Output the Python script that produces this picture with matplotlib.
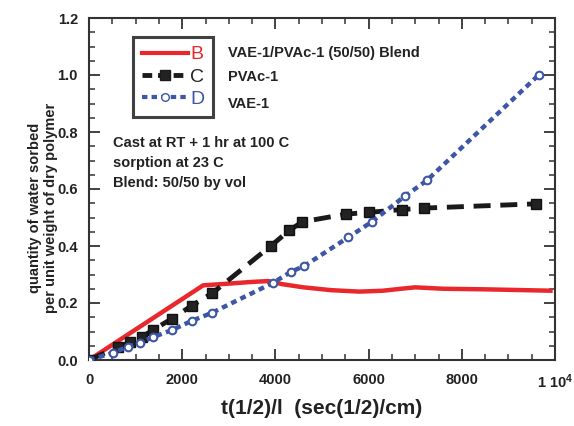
import matplotlib
matplotlib.use("Agg")
import matplotlib.pyplot as plt
from matplotlib.ticker import MultipleLocator
from matplotlib.lines import Line2D

plt.rcParams['font.family'] = ['Liberation Sans', 'DejaVu Sans']
plt.rcParams['mathtext.fontset'] = 'custom'
plt.rcParams['mathtext.rm'] = 'Liberation Sans:bold'
plt.rcParams['mathtext.it'] = 'Liberation Sans:bold'
plt.rcParams['mathtext.bf'] = 'Liberation Sans:bold'

# B: VAE-1/PVAc-1 (50/50) Blend
b_x = [0, 2450, 3000, 3500, 3850, 4150, 4600, 5200, 5800, 6300, 6700, 7000, 7600, 8500, 9950]
b_y = [0, 0.262, 0.268, 0.274, 0.277, 0.266, 0.255, 0.245, 0.240, 0.243, 0.250, 0.255, 0.250, 0.248, 0.243]

# C: PVAc-1
c_x = [0, 620, 880, 1130, 1370, 1780, 2200, 2650, 3900, 4300, 4580, 5520, 6010, 6720, 7190, 9600]
c_y = [0, 0.045, 0.062, 0.080, 0.105, 0.145, 0.190, 0.235, 0.400, 0.455, 0.485, 0.512, 0.518, 0.528, 0.533, 0.548]

# D: VAE-1
d_x = [0, 510, 830, 1090, 1370, 1780, 2200, 2630, 3940, 4340, 4620, 5560, 6070, 6780, 7250, 9650]
d_y = [0, 0.025, 0.046, 0.060, 0.080, 0.105, 0.137, 0.165, 0.270, 0.310, 0.330, 0.430, 0.485, 0.575, 0.630, 1.000]

x_ticks = [0, 2000, 4000, 6000, 8000, 10000]
x_ticklabels = ['0', '2000', '4000', '6000', '8000', '1 10$^{4}$']
y_ticks = [0.0, 0.2, 0.4, 0.6, 0.8, 1.0, 1.2]
y_ticklabels = ['0.0', '0.2', '0.4', '0.6', '0.8', '1.0', '1.2']

series_names = ['VAE-1/PVAc-1 (50/50) Blend', 'PVAc-1', 'VAE-1']
notes = ['Cast at RT + 1 hr at 100 C', 'sorption at 23 C', 'Blend: 50/50 by vol']

RED = '#e8282c'
BLUE = '#3d56a6'

fig = plt.figure(figsize=(5.74, 4.26), dpi=100)
ax = fig.add_axes([89/574, 1 - 360/426, 466/574, 342/426])

ax.plot(b_x, b_y, color=RED, lw=3.2, solid_capstyle='butt', zorder=2)
ax.plot(c_x, c_y, color='#1a1a1a', lw=3.5, linestyle=(0, (3.5, 2)), marker='s',
        markersize=7, markerfacecolor='#222222', markeredgecolor='#111111', zorder=3)
ax.plot(d_x, d_y, color=BLUE, lw=3.2, linestyle=(0, (1.3, 1.0)), marker='o',
        markersize=5.5, markerfacecolor='white', markeredgecolor=BLUE, markeredgewidth=1.5, zorder=4)

ax.set_xlim(0, 10000)
ax.set_ylim(0, 1.2)
ax.set_xticks(x_ticks)
ax.set_xticklabels(x_ticklabels)
ax.set_yticks(y_ticks)
ax.set_yticklabels(y_ticklabels)
ax.xaxis.set_minor_locator(MultipleLocator(500))
ax.yaxis.set_minor_locator(MultipleLocator(0.05))
ax.tick_params(which='both', direction='in', top=True, right=True, color='#333333')
ax.tick_params(which='major', length=8, width=1.3)
ax.tick_params(which='minor', length=4.5, width=1.1)
ax.tick_params(axis='x', which='major', pad=9)
ax.tick_params(axis='y', which='major', pad=8)
for lab in ax.get_xticklabels() + ax.get_yticklabels():
    lab.set_fontweight('bold')
    lab.set_fontsize(10.5)
    lab.set_color('#222222')
for s in ax.spines.values():
    s.set_linewidth(1.5)
    s.set_color('#333333')

ax.set_xlabel('t(1/2)/l  (sec(1/2)/cm)', fontsize=15, fontweight='bold', labelpad=6, color='#222222')
fig.text(43/574, 1 - 208/426, 'quantity of water sorbed\nper unit weight of dry polymer',
         rotation=90, ha='center', va='center', fontsize=10.5, fontweight='bold',
         color='#222222', linespacing=1.1)

# legend
handles = [
    Line2D([], [], color=RED, lw=3.0),
    Line2D([], [], color='#1a1a1a', lw=3.5, linestyle=(0, (2, 1.2)), marker='s',
           markersize=7, markerfacecolor='#222222'),
    Line2D([], [], color=BLUE, lw=3.0, linestyle=(0, (1.3, 1.0)), marker='o',
           markersize=5.5, markerfacecolor='white', markeredgecolor=BLUE),
]
leg = ax.legend(handles, ['B', 'C', 'D'], loc='upper left',
                bbox_to_anchor=(44/466, 1 - 19/342), frameon=True, fancybox=False,
                edgecolor='#111111', fontsize=14, handlelength=2.4, handletextpad=0.1,
                labelspacing=0.25, borderpad=0.45, markerscale=1.0, numpoints=1,
                borderaxespad=0)
leg.get_frame().set_linewidth(2.2)
for t, c in zip(leg.get_texts(), [RED, '#222222', BLUE]):
    t.set_color(c)

for name, ypx in zip(series_names, [53, 77, 104]):
    ax.text(228/574, 1 - ypx/426, name, transform=fig.transFigure, fontsize=10.5,
            fontweight='bold', va='center', ha='left', color='#222222')

for note, ypx in zip(notes, [143, 163, 183]):
    ax.text(113/574, 1 - ypx/426, note, transform=fig.transFigure, fontsize=10.5,
            fontweight='bold', va='center', ha='left', color='#222222')

fig.savefig('out.png', dpi=100)
